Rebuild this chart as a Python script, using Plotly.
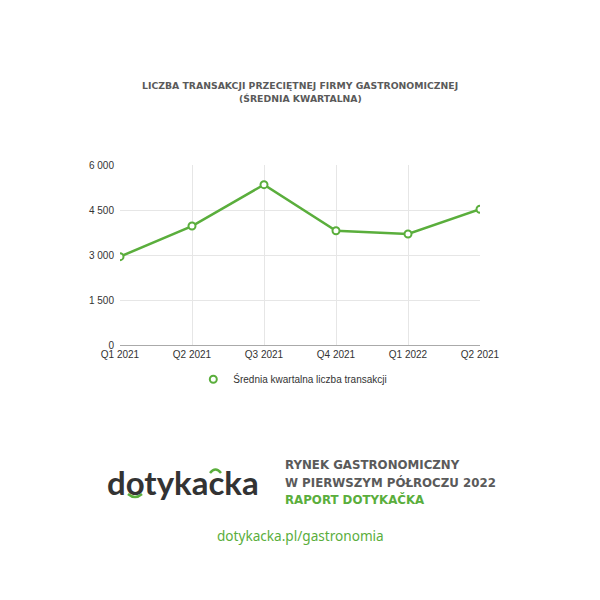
import plotly.graph_objects as go

quarters = ["Q1 2021", "Q2 2021", "Q3 2021", "Q4 2021", "Q1 2022", "Q2 2021"]
transactions = [2945, 3965, 5345, 3810, 3700, 4525]
y_ticks = [0, 1500, 3000, 4500, 6000]
y_tick_labels = ["0", "1 500", "3 000", "4 500", "6 000"]
series_name = "Średnia kwartalna liczba transakcji"

GREEN = "#5aae3c"
GRAY_TITLE = "#5a5a5a"

xs = list(range(len(quarters)))

fig = go.Figure()
fig.add_trace(go.Scatter(
    x=xs, y=transactions, mode="lines+markers", name=series_name, showlegend=False,
    line=dict(color=GREEN, width=2.5),
    marker=dict(symbol="circle", size=7, color="white", line=dict(color=GREEN, width=2)),
))
# legend entry (marker only, as in the reference)
fig.add_trace(go.Scatter(
    x=[None], y=[None], mode="markers", name=series_name, showlegend=True,
    marker=dict(symbol="circle", size=7, color="white", line=dict(color=GREEN, width=2)),
))

fig.update_layout(
    width=600, height=600,
    margin=dict(l=120, r=120, t=165, b=255),
    paper_bgcolor="white", plot_bgcolor="white",
    font=dict(family="Liberation Sans, Arial", size=10, color="#333"),
    showlegend=True,
    legend=dict(orientation="h", x=0.48, xanchor="center", y=-0.19, yanchor="middle",
                font=dict(size=10, color="#333"), itemwidth=30),
    xaxis=dict(range=[0, len(quarters) - 1], tickvals=xs, ticktext=quarters,
               showgrid=True, gridcolor="#e6e6e6", gridwidth=1,
               showline=True, linecolor="#aaaaaa", linewidth=1,
               zeroline=False, ticks="", tickfont=dict(size=10, color="#333")),
    yaxis=dict(range=[0, 6000], tickvals=y_ticks, ticktext=y_tick_labels,
               showgrid=True, gridcolor="#e6e6e6", gridwidth=1,
               zeroline=False, showline=False, ticks="", ticklabelstandoff=5,
               tickfont=dict(size=10, color="#333")),
)

ann = []
ann.append(dict(text="<b>LICZBA TRANSAKCJI PRZECIĘTNEJ FIRMY GASTRONOMICZNEJ</b>",
                x=300, y=85, font=dict(size=9.3, color=GRAY_TITLE, family="DejaVu Sans")))
ann.append(dict(text="<b>(ŚREDNIA KWARTALNA)</b>",
                x=300, y=98, font=dict(size=9.3, color=GRAY_TITLE, family="DejaVu Sans")))
ann.append(dict(text="<b>dotykacka</b>", x=183, y=482,
                font=dict(size=33, color="#333333", family="Lato")))
ann.append(dict(text="<b>RYNEK GASTRONOMICZNY</b>", x=283, y=465, xanchor="left",
                font=dict(size=11.8, color=GRAY_TITLE, family="DejaVu Sans")))
ann.append(dict(text="<b>W PIERWSZYM PÓŁROCZU 2022</b>", x=283, y=482, xanchor="left",
                font=dict(size=11.8, color=GRAY_TITLE, family="DejaVu Sans")))
ann.append(dict(text="<b>RAPORT DOTYKAČKA</b>", x=283, y=499, xanchor="left",
                font=dict(size=11.8, color=GREEN, family="DejaVu Sans")))
ann.append(dict(text="dotykacka.pl/gastronomia", x=300, y=535,
                font=dict(size=13.6, color=GREEN, family="Noto Sans")))

for a in ann:
    a.setdefault("xanchor", "center")
    fig.add_annotation(xref="paper", yref="paper",
                       x=(a.pop("x") - 120) / 360, y=(600 - 255 - a.pop("y")) / 180,
                       yanchor="middle", showarrow=False, **a)

def px(x, y):
    return (x - 120) / 360, (345 - y) / 180

# green logo arcs
x0, y0 = px(128, 494); x1, y1 = px(142, 494); xc, yc = px(135, 500)
fig.add_shape(type="path", xref="paper", yref="paper",
              path=f"M {x0} {y0} Q {xc} {yc} {x1} {y1}",
              line=dict(color=GREEN, width=2.5))
x0, y0 = px(210, 473); x1, y1 = px(221, 473); xc, yc = px(215.5, 466)
fig.add_shape(type="path", xref="paper", yref="paper",
              path=f"M {x0} {y0} Q {xc} {yc} {x1} {y1}",
              line=dict(color=GREEN, width=2.5))

fig.write_html("out.html", config={"displayModeBar": False},
               post_script="document.body.style.margin='0';")
